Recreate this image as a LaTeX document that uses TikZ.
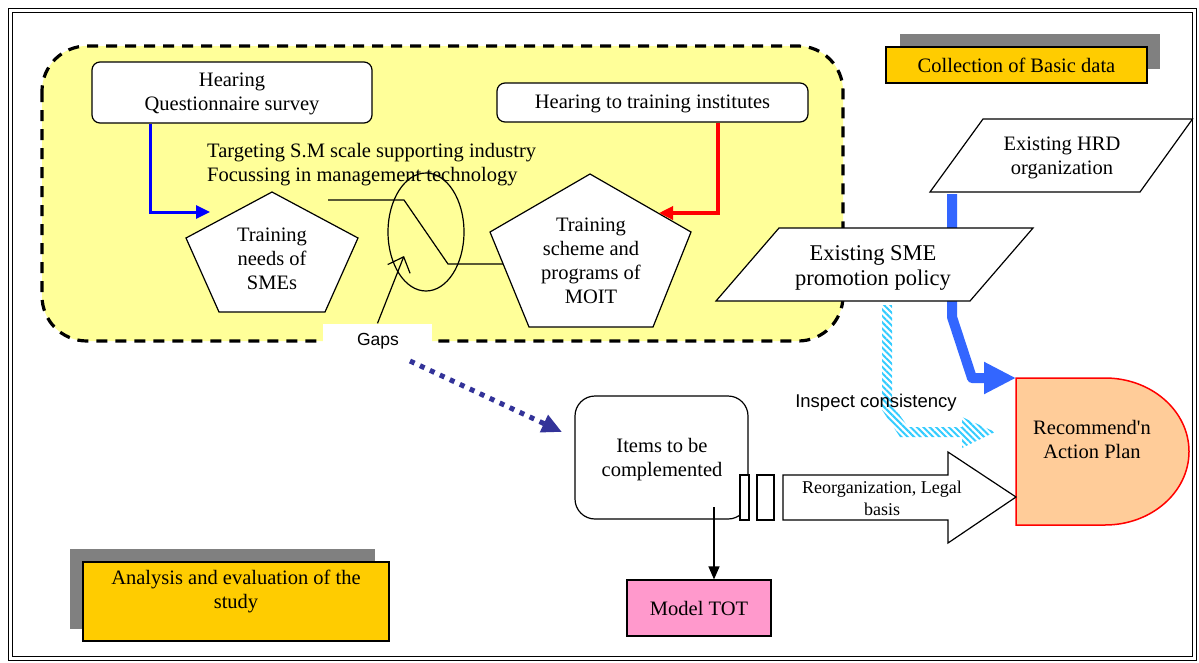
\documentclass[tikz,border=0pt]{standalone}
\usepackage{fontspec}
\setmainfont{Liberation Serif}[Ligatures=TeXOff]
\newfontfamily\arialfont{Liberation Sans}
\usetikzlibrary{arrows.meta,patterns.meta,shapes.geometric}

\definecolor{paleyellow}{HTML}{FFFF99}
\definecolor{gold}{HTML}{FFCC00}
\definecolor{shadowgray}{HTML}{808080}
\definecolor{pinkbox}{HTML}{FF99CC}
\definecolor{peach}{HTML}{FFCC99}
\definecolor{pureblue}{HTML}{0000FF}
\definecolor{brightblue}{HTML}{3366FF}
\definecolor{hatchcyan}{HTML}{33CCFF}
\definecolor{navy}{HTML}{333399}
\definecolor{purered}{HTML}{FF0000}

\tikzset{
  txt/.style={font=\fontsize{20.5}{24}\selectfont, align=center, inner sep=0pt},
  smalltxt/.style={font=\fontsize{18}{22}\selectfont, align=center, inner sep=0pt},
  sanstxt/.style={font=\arialfont\fontsize{18.5}{22}\selectfont, inner sep=0pt},
  box/.style={draw=black, line width=1.2pt, fill=white},
  thin/.style={draw=black, line width=1.2pt},
  labelbox/.style={draw=black, line width=1.6pt, fill=gold, txt},
}

\begin{document}
\begin{tikzpicture}[x=1pt,y=-1pt]
\useasboundingbox (0,0) rectangle (1199,662);
\fill[white] (0,0) rectangle (1199,662);

% double page frame
\draw[line width=1pt] (8,8) rectangle (1196.5,660.5);
\draw[line width=1pt] (12.5,12.5) rectangle (1192.5,656.5);

% study region
\draw[fill=paleyellow, line width=3.2pt, dash pattern=on 11pt off 8pt, rounded corners=45pt]
  (42,46) rectangle (843,341);

% hearing boxes
\node[box, rounded corners=8pt, minimum width=280pt, minimum height=61pt] (hq) at (232,92.5) {};
\node[txt] (hqtext) at (232,94) {Hearing\\Questionnaire survey};
\node[box, rounded corners=8pt, minimum width=311pt, minimum height=39pt] (hti) at (652.5,102.5) {};
\node[txt] (htitext) at (652.5,104) {Hearing to training institutes};

% targeting text
\node[txt, align=left, anchor=west] (target) at (207,165)
  {Targeting S.M scale supporting industry\\Focussing in management technology};

% left pentagon
\coordinate (lp1) at (272,192);
\coordinate (lp2) at (358,238);
\coordinate (lp3) at (325,312);
\coordinate (lp4) at (219,312);
\coordinate (lp5) at (186,238);
\draw[box] (lp1) -- (lp2) -- (lp3) -- (lp4) -- (lp5) -- cycle;
\node[txt] (needs) at (272,259) {Training\\needs of\\SMEs};

% right pentagon
\coordinate (rp1) at (590,174);
\coordinate (rp2) at (691,232);
\coordinate (rp3) at (653,327);
\coordinate (rp4) at (529,327);
\coordinate (rp5) at (490,232);
\draw[box] (rp1) -- (rp2) -- (rp3) -- (rp4) -- (rp5) -- cycle;
\node[txt] (moit) at (591,261) {Training\\scheme and\\programs of\\MOIT};

% gap symbol
\node[thin, ellipse, minimum width=76pt, minimum height=118pt, inner sep=0pt] (gapring) at (426,232) {};
\coordinate (z0) at (328,200);
\coordinate (z1) at (404,200);
\coordinate (z2) at (448,264);
\coordinate (z3) at (503,264);
\draw[thin] (z0) -- (z1) -- (z2) -- (z3);

% gaps label
\node[fill=white, minimum width=109pt, minimum height=27pt, inner sep=0pt] (gaps) at (377.5,337) {};
\node[font=\arialfont\fontsize{17.5}{20}\selectfont, inner sep=0pt] (gapstext) at (378,341) {Gaps};
\coordinate (gapstip) at (404,256);
\draw[thin, -{Straight Barb[length=13pt,width=24pt]}] (gaps.north) -- (gapstip);

% hearing arrows
\coordinate (bcorner) at (150,212);
\coordinate (btip) at (210,212);
\draw[pureblue, line width=3pt, -{Triangle[length=14pt,width=13pt]}]
  (bcorner |- hq.south) -- (bcorner) -- (btip);
\coordinate (rcorner) at (718,213);
\coordinate (rtip) at (659,213);
\draw[purered, line width=3.3pt, -{Triangle[length=14pt,width=13pt]}]
  (rcorner |- hti.south) -- (rcorner) -- (rtip);

% collection of basic data
\fill[shadowgray] (900,34) rectangle (1160,69);
\node[labelbox, minimum width=261pt, minimum height=36pt] (coll) at (1016.5,65) {Collection of Basic data};

% thick blue route from HRD to the plan
\coordinate (hrdfoot) at (952,194);
\coordinate (hb1) at (952,317);
\coordinate (hb2) at (972,378);
\coordinate (recnw) at (1016,378);
\draw[brightblue, line width=10pt, line join=round, -{Triangle[length=32pt,width=30pt]}]
  (hrdfoot) -- (hb1) -- (hb2) -- (recnw);

% existing HRD organization
\draw[box] (983,119) -- (1192.5,119) -- (1140,192) -- (930,192) -- cycle;
\node[txt] (hrd) at (1062,158) {Existing HRD\\organization};

% existing SME promotion policy
\draw[box] (779,228) -- (1033,228) -- (970,301) -- (716,301) -- cycle;
\node[font=\fontsize{22.5}{25}\selectfont, align=center, inner sep=0pt] (sme) at (873,268)
  {Existing SME\\promotion policy};

% hatched consistency arrow
\fill[pattern={Lines[angle=-45,distance=4.5pt,line width=2pt]}, pattern color=hatchcyan]
  (882,305) -- (882,410) -- (900,437) -- (962,437) -- (962,448) -- (995,432)
  -- (962,417) -- (962,427) -- (908,427) -- (892,404) -- (892,305) -- cycle;
\node[sanstxt] (inspect) at (876,403) {Inspect consistency};

% recommendation / action plan
\draw[purered, line width=1.5pt, fill=peach]
  (recnw) -- (1105,378) .. controls (1151.4,378) and (1189,410.9) .. (1189,451.5)
  .. controls (1189,492.1) and (1151.4,525) .. (1105,525) -- (1016,525) -- cycle;
\node[txt] (rec) at (1092,439) {Recommend'n\\Action Plan};

% items to be complemented
\node[box, rounded corners=20pt, minimum width=173pt, minimum height=123pt] (items) at (661.5,457.5) {};
\node[txt] (itemstext) at (662,460) {Items to be\\complemented};

% separators and block arrow
\node[box, minimum width=9pt, minimum height=45pt, inner sep=0pt] (sep1) at (744.5,497.5) {};
\node[box, minimum width=17pt, minimum height=45pt, inner sep=0pt] (sep2) at (765.5,497.5) {};
\draw[box] (783,475) -- (948,475) -- (948,452) -- (1016,497) -- (948,543) -- (948,520) -- (783,520) -- cycle;
\node[smalltxt] (reorg) at (882,498) {Reorganization, Legal\\basis};

% model TOT
\node[draw=black, line width=1.2pt, fill=pinkbox, minimum width=144pt, minimum height=56pt, txt] (tot) at (699,608)
  {Model TOT};
\coordinate (itemsfoot) at (714,507);
\draw[thin, -{Triangle[length=13pt,width=11pt]}] (itemsfoot) -- (itemsfoot |- tot.north);

% gaps to items
\coordinate (gapsdot) at (410,361);
\coordinate (itemstip) at (562,432);
\draw[navy, line width=5pt, dash pattern=on 5pt off 6pt, -{Triangle[length=20pt,width=18pt]}]
  (gapsdot) -- (itemstip);

% analysis and evaluation
\fill[shadowgray] (70,549) rectangle (375,629);
\draw[draw=black, line width=2pt, fill=gold] (83,562) rectangle (389,641);
\node[txt] (analysis) at (236,591) {Analysis and evaluation of the\\study};
\end{tikzpicture}
\end{document}
